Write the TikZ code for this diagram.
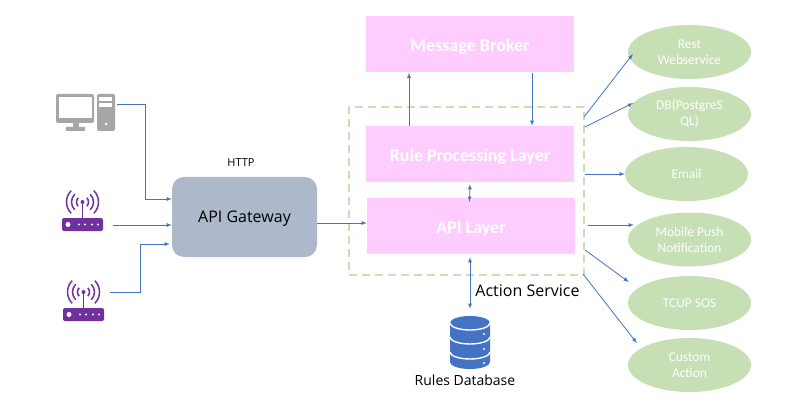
\documentclass[tikz,border=0pt]{standalone}
\usepackage{fontspec}
\setmainfont{Carlito}
\newfontfamily\labelfont{Open Sans}
\usetikzlibrary{shapes,shapes.geometric,arrows,calc,positioning}
\definecolor{linkblue}{HTML}{4472C4}
\definecolor{layerpink}{HTML}{FFCCFF}
\definecolor{actiongreen}{HTML}{C6DFB5}
\definecolor{gatewaygrey}{HTML}{ADB9CA}
\definecolor{pcgrey}{HTML}{A6A6A6}
\definecolor{routerpurple}{HTML}{7030A0}
\tikzset{action/.style={ellipse, fill=actiongreen, text=white, align=center, inner sep=0pt,
    minimum width=123pt, minimum height=54pt, font=\fontsize{13.4}{16}\selectfont}}
\tikzset{link/.style={->, draw=linkblue, line width=0.8pt}}
\tikzset{icon/.style={inner sep=0pt}}
\tikzstyle{layer}=[rectangle, fill=layerpink, text=white, inner sep=0pt, minimum width=208pt,
    minimum height=56pt, text height=17.5pt, text depth=3pt, font=\fontsize{18}{21}\selectfont\bfseries]
% icons, drawn around their top left corner
\tikzset{
  computer/.pic={
    \fill[pcgrey, rounded corners=2pt] (0,0) rectangle (38,29);
    \fill[white] (3,3) rectangle (36,24);
    \fill[pcgrey] (17,29) rectangle (23,34);
    \fill[pcgrey, rounded corners=0.5pt] (10,33) rectangle (29,37);
    \fill[pcgrey, rounded corners=2pt] (41,0) rectangle (59,37);
    \fill[white] (43,3) rectangle (56,7);
    \fill[white] (43,9) rectangle (56,13);
    \fill[white] (50,30) circle (1.5pt);
  },
  router/.pic={
    \fill[routerpurple, rounded corners=2pt] (0,28) rectangle (41,41);
    \fill[white] (6,34.5) circle (2.5pt);
    \foreach \dx in {17,23,30,36} \fill[white] (\dx,34.5) circle (1.2pt);
    \draw[routerpurple, line width=1.5pt] (20.5,12) -- (20.5,29);
    \fill[routerpurple] (20.5,12) circle (2pt);
    \foreach \rad in {6,11,16} {
      \draw[routerpurple, line width=1.5pt] ($(20.5,12)+(135:\rad pt)$) arc (135:225:\rad pt);
      \draw[routerpurple, line width=1.5pt] ($(20.5,12)+(45:\rad pt)$) arc (45:-45:\rad pt);
    }
  },
  database/.pic={
    \fill[linkblue] (0,7) arc (180:0:20pt and 7pt) -- (40,46) arc (0:-180:20pt and 7pt) -- cycle;
    \foreach \yy in {7,21,36}
      \draw[white, line width=1.4pt] (0,\yy) arc (180:360:20pt and 7pt);
    \foreach \yy in {18,33,47} \fill[white] (34,\yy) circle (1.1pt);
  }
}

\begin{document}
\begin{tikzpicture}[>=latex, x=1pt, y=-1pt]
\useasboundingbox (0,0) rectangle (792,406);
% clients
\pic at (56,94) {computer};
\pic at (62,190) {router};
\pic at (63,280) {router};
\node[icon, minimum width=61pt, minimum height=37pt] (PC) at (86.5,112.5){};
\node[icon, minimum width=41pt, minimum height=41pt] (R1) at (82.5,210.5){};
\node[icon, minimum width=41pt, minimum height=41pt] (R2) at (83.5,300.5){};
\coordinate (PCout) at ([yshift=8.5pt]PC.east);
\coordinate (R1out) at (113,225);
\coordinate (R2out) at (110,292);
\node[rectangle, rounded corners=12pt, fill=gatewaygrey, minimum width=145pt, minimum height=80pt,
      inner sep=0pt, text height=15.4pt, text depth=4pt, font=\labelfont\fontsize{16}{19}\selectfont] (GW) at (244.5,217) {API Gateway};
\node[font=\labelfont\fontsize{11}{13}\selectfont] (HTTP) at (241,163) {HTTP};
% the action service
\node[rectangle, draw=actiongreen, line width=2.2pt, dash pattern=on 8pt off 5pt, minimum width=235pt,
      minimum height=168pt, inner sep=0pt, outer sep=0pt] (AS) at (466.5,191) {};
\node[layer] (MB) at (470,44.5) {Message Broker};
\node[layer][below of=MB, node distance=109.5pt] (RP) {Rule Processing Layer};
\node[layer][below of=RP, node distance=72pt, xshift=1pt] (API) {API Layer};
\node[font=\labelfont\fontsize{16}{19}\selectfont] (ASL) at (527.5,290.5) {Action Service};
\pic at (450,316) {database};
\node[icon, minimum width=40pt, minimum height=53pt] (DB) at (470,342.5){};
\node[font=\labelfont\fontsize{14}{17}\selectfont] (DBL) at (465,380) {Rules Database};
% actions
\node[action] (Rest) at (689.5,52) {Rest\\Webservice};
\node[action][below of=Rest, node distance=62pt] (PG) {DB(PostgreS\\QL)};
\node[action][below of=PG, node distance=60pt, xshift=-3pt] (Email) {Email};
\node[action][below of=PG, node distance=125.5pt] (Push) {Mobile Push\\Notification};
\node[action][below of=Push, node distance=63.5pt] (TCUP) {TCUP SOS};
\node[action][below of=TCUP, node distance=62pt] (Custom) {Custom\\Action};
\coordinate (ASa) at ([yshift=-10pt]AS.north east);
\coordinate (ASb) at ([yshift=-20pt,xshift=1pt]AS.north east);
\coordinate (ASc) at ([yshift=-67pt,xshift=1pt]AS.north east);
\coordinate (ASd) at ([yshift=-118pt,xshift=4pt]AS.north east);
\coordinate (ASe) at ([yshift=-143pt,xshift=1pt]AS.north east);
\coordinate (ASf) at ([yshift=-167pt,xshift=-1pt]AS.north east);
% connectors
\draw[link] (PCout) -- (145,104) |- ([yshift=18pt]GW.west);
\draw[link] (R1out) -- (GW.west |- R1out);
\draw[link] (R2out) -- (140,292) |- ([xshift=-2pt,yshift=-27pt]GW.west);
\draw[link] ([yshift=-6pt]GW.east) -- ([yshift=3pt]API.west);
\draw[link] ([xshift=-61pt]RP.north) -- ([xshift=-61pt]MB.south);
\draw[link] ([xshift=62pt]MB.south) -- ([xshift=62pt]RP.north);
\draw[link, <->] ([yshift=-2pt]RP.south) -- ([xshift=-1.5pt,yshift=-4pt]API.north);
\draw[link, <->] ([xshift=-1pt,yshift=-3pt]API.south) -- ([yshift=7pt]DB.north);
\draw[link] (ASa) -- ([xshift=5pt,yshift=-2pt]Rest.west);
\draw[link] (ASb) -- (PG.169);
\draw[link] (ASc) -- (Email.west);
\draw[link] (ASd) -- ([xshift=6pt,yshift=14.5pt]Push.west);
\draw[link] (ASe) -- ([xshift=1pt,yshift=21pt]TCUP.west);
\draw[link] (ASf) -- ([xshift=9pt,yshift=22pt]Custom.west);
\end{tikzpicture}
\end{document}
